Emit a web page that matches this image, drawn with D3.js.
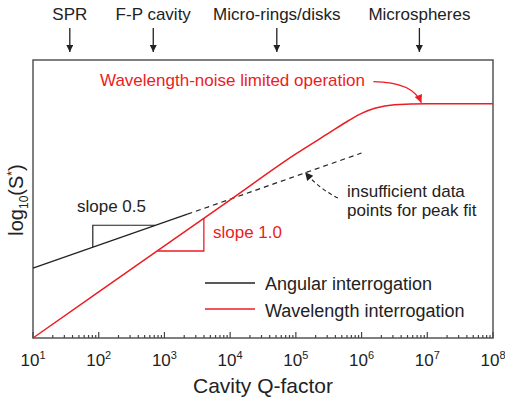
<!DOCTYPE html>
<html><head><meta charset="utf-8">
<script src="https://cdn.jsdelivr.net/npm/d3@7"></script>
<style>body{margin:0;background:#fff}svg{font-family:"Liberation Sans",Arial,sans-serif}</style>
</head><body>
<svg id="c" width="505" height="404"></svg>
<script>
// ---- data (log10 Q exponents, log10 S* values) ----
const xTickExps = [1,2,3,4,5,6,7,8];
const angularSolidQ = [1, 3.35];
const angularSolidS = [1.52, 2.69];
const angularDashQ = [3.35, 6.0];
const angularDashS = [2.69, 4.02];
const waveQ = [1, 2, 3, 4, 5, 5.5, 5.8, 6.0, 6.2, 6.5, 7, 8];
const waveS = [0, 1, 2, 3, 4, 4.45, 4.72, 4.88, 4.99, 5.07, 5.09, 5.09];
const tri05Q = [1.91, 1.91, 2.86];
const tri05S = [1.975, 2.45, 2.45];
const tri10Q = [2.89, 3.60, 3.60];
const tri10S = [1.89, 1.89, 2.60];
const deviceLabels = ["SPR", "F-P cavity", "Micro-rings/disks", "Microspheres"];
const deviceQ = [1.56, 2.83, 4.71, 6.88];

const svg = d3.select("#c");
const L = 33, R = 493, T = 60, B = 338;
const x = d3.scaleLog().domain([10, 1e8]).range([L, R]);
const y = d3.scaleLinear().domain([0, 6.04]).range([B, T]);
const red = "#ec1c24", blk = "#222";
const px = e => x(Math.pow(10, e));

const defs = svg.append("defs");
function marker(id, color, w, h) {
  defs.append("marker").attr("id", id).attr("viewBox", "0 0 10 10").attr("refX", 10).attr("refY", 5)
    .attr("markerWidth", w).attr("markerHeight", h).attr("markerUnits", "userSpaceOnUse").attr("orient", "auto")
    .append("path").attr("d", "M0,0L10,5L0,10Z").attr("fill", color);
}
marker("ab", blk, 9, 7);
marker("ar", red, 10, 8);
marker("ad", blk, 10, 8);

// frame
svg.append("rect").attr("x", L).attr("y", T).attr("width", R - L).attr("height", B - T)
  .attr("fill", "none").attr("stroke", "#555").attr("stroke-width", 1.5);

// ticks (inside, bottom)
const ticks = x.ticks();
svg.append("g").selectAll("line").data(ticks).join("line")
  .attr("x1", d => x(d)).attr("x2", d => x(d)).attr("y1", B)
  .attr("y2", d => Math.abs(Math.log10(d) - Math.round(Math.log10(d))) < 1e-9 ? B - 6 : B - 3)
  .attr("stroke", "#444").attr("stroke-width", 1.2);

// tick labels
const tl = svg.append("g").selectAll("text").data(xTickExps).join("text")
  .attr("x", d => px(d)).attr("y", 366).attr("text-anchor", "middle").attr("font-size", 17).attr("fill", "#222");
tl.append("tspan").text("10");
tl.append("tspan").attr("dy", -7).attr("font-size", 11).text(d => d);

svg.append("text").attr("x", 263).attr("y", 393).attr("text-anchor", "middle").attr("font-size", 21).attr("fill", "#222").text("Cavity Q-factor");

const yt = svg.append("text").attr("transform", "translate(23,200) rotate(-90)").attr("text-anchor", "middle").attr("font-size", 20).attr("fill", "#222");
yt.append("tspan").text("log");
yt.append("tspan").attr("dy", 5).attr("font-size", 12).text("10");
yt.append("tspan").attr("dy", -5).text("(S");
yt.append("tspan").attr("dy", -7).attr("font-size", 12).text("*");
yt.append("tspan").attr("dy", 7).text(")");

// top device labels and arrows
deviceLabels.forEach((t, i) => {
  svg.append("text").attr("x", px(deviceQ[i])).attr("y", 20).attr("text-anchor", "middle").attr("font-size", 17).attr("fill", "#222").text(t);
  svg.append("line").attr("x1", px(deviceQ[i])).attr("x2", px(deviceQ[i])).attr("y1", 28).attr("y2", 52)
    .attr("stroke", blk).attr("stroke-width", 1.3).attr("marker-end", "url(#ab)");
});

const line = d3.line().x(d => px(d[0])).y(d => y(d[1]));
const zipd = (a, b) => a.map((v, i) => [v, b[i]]);

svg.append("path").attr("d", line(zipd(angularSolidQ, angularSolidS))).attr("fill", "none").attr("stroke", blk).attr("stroke-width", 1.3);
svg.append("path").attr("d", line(zipd(angularDashQ, angularDashS))).attr("fill", "none").attr("stroke", blk).attr("stroke-width", 1.2).attr("stroke-dasharray", "5,4");
svg.append("path").attr("d", line.curve(d3.curveMonotoneX)(zipd(waveQ, waveS))).attr("fill", "none").attr("stroke", red).attr("stroke-width", 1.5);
line.curve(d3.curveLinear);

svg.append("path").attr("d", line(zipd(tri05Q, tri05S))).attr("fill", "none").attr("stroke", blk).attr("stroke-width", 1.2);
svg.append("path").attr("d", line(zipd(tri10Q, tri10S))).attr("fill", "none").attr("stroke", red).attr("stroke-width", 1.3);

svg.append("text").attr("x", 77).attr("y", 212).attr("font-size", 17).attr("fill", "#222").text("slope 0.5");
svg.append("text").attr("x", 213).attr("y", 238).attr("font-size", 17).attr("fill", red).text("slope 1.0");

svg.append("text").attr("x", 100).attr("y", 86).attr("font-size", 17).attr("fill", red).text("Wavelength-noise limited operation");
// red arrow
svg.append("path").attr("d", `M${px(6.18)},${y(5.57)} Q${px(6.78)},${y(5.56)} ${px(6.91)},${y(5.11)}`)
  .attr("fill", "none").attr("stroke", red).attr("stroke-width", 1.3).attr("marker-end", "url(#ar)");

svg.append("text").attr("x", 347).attr("y", 197).attr("font-size", 17).attr("fill", "#222").text("insufficient data");
svg.append("text").attr("x", 347).attr("y", 216).attr("font-size", 17).attr("fill", "#222").text("points for peak fit");
svg.append("path").attr("d", `M${px(5.64)},${y(3.04)} Q${px(5.35)},${y(3.25)} ${px(5.14)},${y(3.6)}`)
  .attr("fill", "none").attr("stroke", blk).attr("stroke-width", 1.1).attr("stroke-dasharray", "4,3").attr("marker-end", "url(#ad)");

// legend
const legend = [["Angular interrogation", blk, 283, 290], ["Wavelength interrogation", red, 309, 317]];
legend.forEach(([t, c, ly, ty]) => {
  svg.append("line").attr("x1", 205).attr("x2", 255).attr("y1", ly).attr("y2", ly).attr("stroke", c).attr("stroke-width", 1.3);
  svg.append("text").attr("x", 265).attr("y", ty).attr("font-size", 18).attr("fill", "#222").text(t);
});
</script>
</body></html>
